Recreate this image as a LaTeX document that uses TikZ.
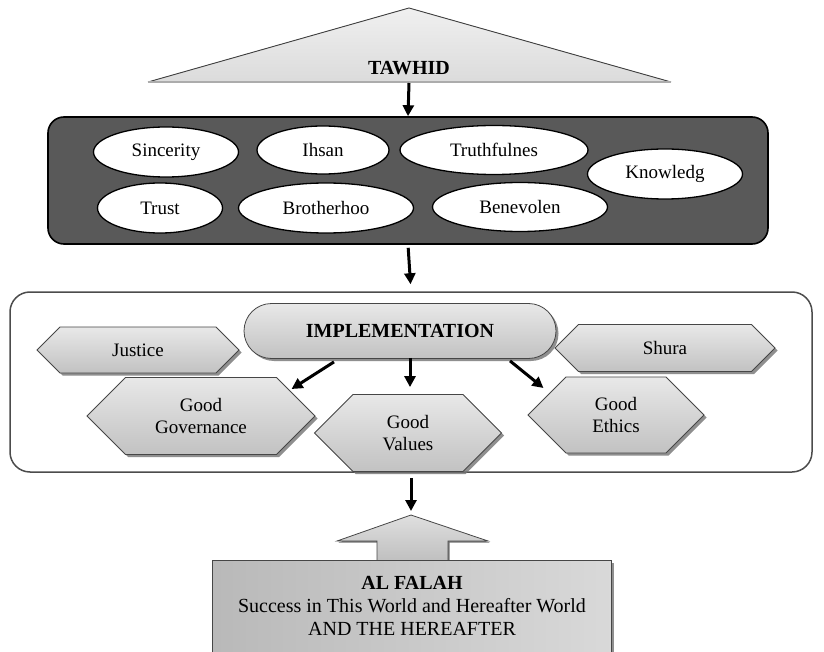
\documentclass[tikz,border=0pt]{standalone}
\usepackage{fontspec}
\setmainfont{Liberation Serif}
\usetikzlibrary{shapes.geometric,shapes.symbols,shapes.misc,arrows.meta,shadows,calc}
\begin{document}
\begin{tikzpicture}[x=1pt,y=-1pt,
  txt/.style={font=\fontsize{19}{22}\selectfont, align=center},
  oval/.style={ellipse, draw=black, line width=1.3pt, fill=white, inner sep=0pt, txt},
  shade/.style={top color=gray!18, bottom color=gray!48},
  shad/.style={drop shadow={shadow xshift=2.5pt, shadow yshift=-2.5pt, fill=black!55, opacity=0.8}},
  hexa/.style={signal, signal to=west and east, signal pointer angle=90, draw=gray!55!black, line width=0.8pt, shade, shad, inner sep=0pt, txt},
  arr/.style={-{Triangle[length=11pt,width=11pt]}, line width=3pt, black},
]
\useasboundingbox (0,0) rectangle (824,652);

% TAWHID triangle
\coordinate (ta) at (409,8);
\coordinate (tl) at (148,82);
\coordinate (tr) at (671,82);
\coordinate (tb) at (409,83);
\fill[top color=gray!12, bottom color=gray!28] (tl) -- (ta) -- (tr) -- cycle;
\draw[gray!50!black, line width=0.9pt] (tl) -- (ta) -- (tr);
\draw[gray!65, line width=2.6pt] (tl) -- (tr);
\node[txt, font=\fontsize{20}{22}\selectfont\bfseries] (tawhid) at (409,68) {TAWHID};

% values box
\node[draw=black, line width=1.6pt, fill=black!65, rounded corners=16pt,
      minimum width=720pt, minimum height=127pt] (values) at (408,180.5) {};
\draw[arr] (tb) -- (values.north);

\node[oval, minimum width=145pt, minimum height=50pt] (sinc) at (166,152) {Sincerity};
\node[oval, minimum width=132pt, minimum height=48pt] (ihsan) at (323,150) {Ihsan};
\node[oval, minimum width=188pt, minimum height=49pt] (truth) at (494,150) {Truthfulnes};
\node[oval, minimum width=155pt, minimum height=50pt] (know) at (665,174) {Knowledg};
\node[oval, minimum width=125pt, minimum height=50pt] (trust) at (160,208) {Trust};
\node[oval, minimum width=175pt, minimum height=50pt] (broth) at (326,208) {Brotherhoo};
\node[oval, minimum width=175pt, minimum height=49pt] (bene) at (520,207) {Benevolen};

% implementation container
\node[draw=gray!60!black, line width=1.5pt, fill=white, rounded corners=20pt,
      minimum width=802pt, minimum height=180pt] (impbox) at (411,382) {};
\draw[arr, shorten <=3pt, shorten >=7pt] (values.south) -- (impbox.north);

\node[rounded rectangle, draw=gray!55!black, line width=0.8pt, shade, shad, txt,
      font=\fontsize{20}{22}\selectfont\bfseries,
      minimum width=312pt, minimum height=55pt, inner sep=0pt] (impl) at (400,331) {IMPLEMENTATION};

\node[hexa, minimum width=202pt, minimum height=46pt] (just) at (138,350) {Justice};
\node[hexa, minimum width=220pt, minimum height=47pt] (shura) at (665,348) {Shura};
\node[hexa, minimum width=228pt, minimum height=77pt] (gov) at (201,416) {Good\\Governance};
\node[hexa, minimum width=187pt, minimum height=77pt] (vals) at (408,433) {Good\\Values};
\node[hexa, minimum width=176pt, minimum height=76pt] (eth) at (616,415) {Good\\Ethics};

\draw[arr] ($(impl.south)+(-66,3)$) -- ($(gov.east)+(-24,-27)$);
\draw[arr] ($(impl.south)+(10,-1)$) -- ($(vals.north)+(2,-7)$);
\draw[arr] ($(impl.south)+(110,2)$) -- ($(eth.west)+(16,-27)$);

% AL FALAH
\coordinate (fa) at (411,515);
\coordinate (fwr) at (488,541);
\coordinate (fsr) at (448,541);
\coordinate (fbr) at (448,561);
\coordinate (fbl) at (377,561);
\coordinate (fsl) at (377,541);
\coordinate (fwl) at (337,541);
\draw[arr, shorten <=5pt, shorten >=4pt] (impbox.south) -- (fa);
\fill[black!55] ($(fa)+(1.5,1.5)$) -- ($(fwr)+(1.5,1.5)$) -- ($(fsr)+(1.5,1.5)$) -- ($(fbr)+(1.5,0)$) -- ($(fbl)+(1.5,0)$) -- ($(fsl)+(1.5,1.5)$) -- ($(fwl)+(1.5,1.5)$) -- cycle;
\draw[gray!55!black, line width=0.8pt, top color=gray!25, bottom color=gray!50]
  (fa) -- (fwr) -- (fsr) -- (fbr) -- (fbl) -- (fsl) -- (fwl) -- cycle;

\node[draw=gray!55!black, line width=0.8pt, left color=gray!55, right color=gray!30, shad,
      minimum width=399pt, minimum height=92pt, inner sep=0pt,
      font=\fontsize{20}{23}\selectfont, align=center] (falah) at (412,606)
  {\textbf{AL FALAH}\\Success in This World and Hereafter World\\AND THE HEREAFTER};
\end{tikzpicture}
\end{document}
